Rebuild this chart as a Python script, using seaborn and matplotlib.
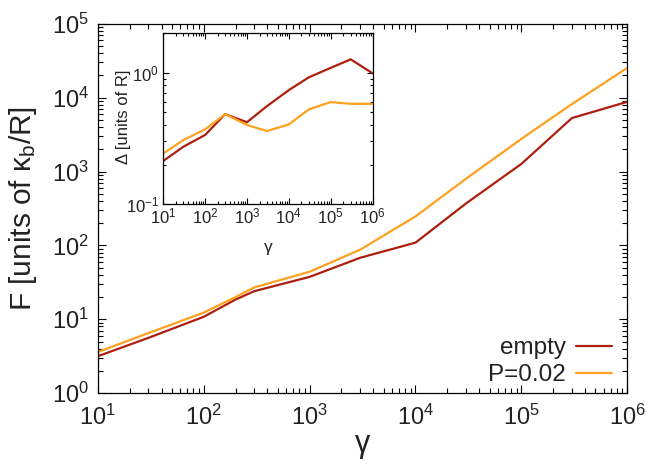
import numpy as np
import pandas as pd
import matplotlib
matplotlib.use("Agg")
import matplotlib.pyplot as plt
from matplotlib.ticker import LogLocator, NullFormatter
import seaborn as sns

# Main panel: free energy versus gamma
gamma = [10, 30, 100, 200, 300, 1e3, 3e3, 1e4, 3e4, 1e5, 3e5, 1e6]
F_empty = [3.16, 5.6, 10.8, 18.5, 24.0, 37.5, 68.0, 109.0, 370.0, 1270.0, 5300.0, 8800.0]
F_p002 = [3.6, 6.5, 12.3, 20.0, 27.0, 44.0, 87.5, 247.0, 800.0, 2770.0, 8200.0, 25300.0]

# Inset: width Delta versus gamma
gamma_in = [10, 30, 100, 300, 1e3, 3e3, 1e4, 3e4, 1e5, 3e5, 1e6]
D_empty = [0.213, 0.273, 0.336, 0.484, 0.42, 0.557, 0.738, 0.923, 1.09, 1.265, 0.99]
D_p002 = [0.243, 0.307, 0.371, 0.484, 0.40, 0.36, 0.404, 0.526, 0.598, 0.58, 0.58]

series = ["empty", "P=0.02"]
colors = {"empty": "#ad1f0f", "P=0.02": "#ffa11f"}

main_df = pd.DataFrame({
    "gamma": gamma * 2,
    "F": F_empty + F_p002,
    "case": [series[0]] * len(gamma) + [series[1]] * len(gamma),
})
inset_df = pd.DataFrame({
    "gamma": gamma_in * 2,
    "D": D_empty + D_p002,
    "case": [series[0]] * len(gamma_in) + [series[1]] * len(gamma_in),
})

sns.set_theme(style="ticks")
plt.rcParams["font.family"] = ["Liberation Sans", "DejaVu Sans"]
plt.rcParams["mathtext.fontset"] = "custom"
plt.rcParams["mathtext.rm"] = "Liberation Sans"
plt.rcParams["mathtext.it"] = "Liberation Sans:italic"
plt.rcParams["mathtext.default"] = "regular"
plt.rcParams["axes.edgecolor"] = "black"
plt.rcParams["axes.linewidth"] = 0.9

TEXT = "#222222"

fig = plt.figure(figsize=(6.48, 4.68), dpi=100)
ax = fig.add_axes([0.151, 0.160, 0.817, 0.789])

sns.lineplot(data=main_df, x="gamma", y="F", hue="case", hue_order=series,
             palette=colors, linewidth=1.6, ax=ax, sort=False, estimator=None)
ax.set_xscale("log")
ax.set_yscale("log")
ax.set_xlim(10, 1e6)
ax.set_ylim(1, 1e5)


def style_log_axis(a, size, pad_x, pad_y, major_len, minor_len):
    for axis in (a.xaxis, a.yaxis):
        axis.set_major_locator(LogLocator(base=10, numticks=20))
        axis.set_minor_locator(LogLocator(base=10, subs=np.arange(2, 10), numticks=20))
        axis.set_minor_formatter(NullFormatter())
    a.tick_params(which="both", direction="in", top=True, right=True,
                  color="black", width=0.8)
    a.tick_params(which="major", length=major_len, labelsize=size, labelcolor=TEXT)
    a.tick_params(which="minor", length=minor_len)
    a.tick_params(axis="x", which="major", pad=pad_x)
    a.tick_params(axis="y", which="major", pad=pad_y)


style_log_axis(ax, 17, 8, 6.5, 6, 3.5)
ax.set_xlabel("γ", fontsize=22, color=TEXT, labelpad=0)
ax.set_ylabel("F [units of κ$_{\\rm b}$/R]", fontsize=21.5, color=TEXT)
ax.yaxis.set_label_coords(-0.112, 0.5)

leg = ax.legend(loc="lower right", bbox_to_anchor=(0.99, -0.008), frameon=False,
                markerfirst=False, fontsize=17.5, handlelength=1.5,
                handletextpad=0.4, labelspacing=0.2, borderaxespad=0)
for t in leg.get_texts():
    t.set_color(TEXT)

# Inset
axin = fig.add_axes([0.252, 0.564, 0.323, 0.365])
sns.lineplot(data=inset_df, x="gamma", y="D", hue="case", hue_order=series,
             palette=colors, linewidth=1.6, ax=axin, sort=False, estimator=None,
             legend=False)
axin.set_xscale("log")
axin.set_yscale("log")
axin.set_xlim(10, 1e6)
axin.set_ylim(0.1, 2.0)
style_log_axis(axin, 12, 1.5, 3, 4.5, 2.5)
axin.set_xlabel("γ", fontsize=12.5, color=TEXT, labelpad=10)
axin.set_ylabel("Δ [units of R]", fontsize=12, color=TEXT)
axin.yaxis.set_label_coords(-0.155, 0.51)

fig.savefig("out.png", dpi=100)
